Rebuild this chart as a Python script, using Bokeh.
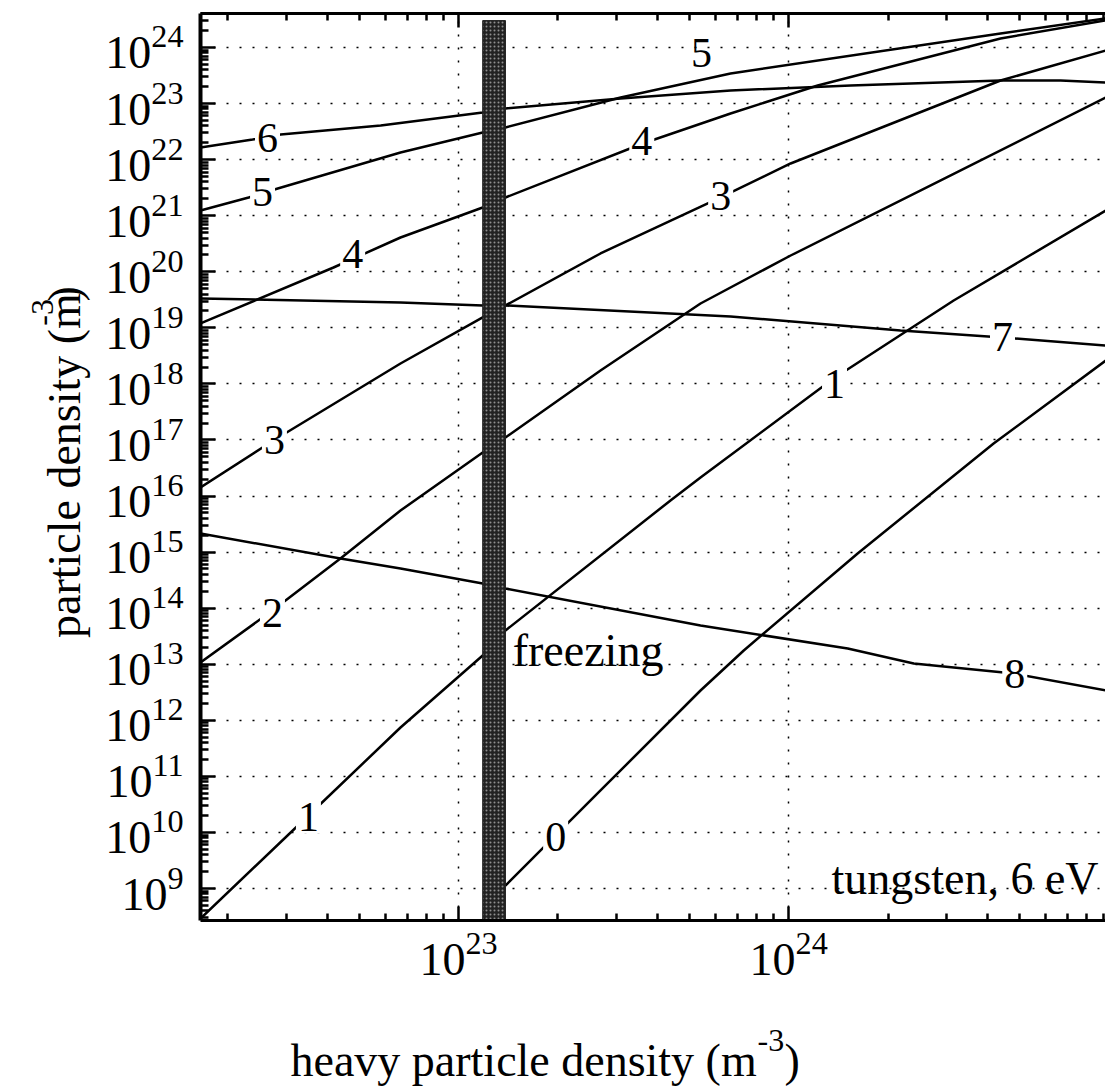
import numpy as np
from bokeh.plotting import figure
from bokeh.layouts import row, column
from bokeh.models import FixedTicker, LogAxis, CustomJSTickFormatter
from bokeh.core.properties import value
from bokeh.embed import file_html
from bokeh.resources import INLINE

FONT = "Liberation Serif"

# ---- data (log10 of densities in m^-3) ----
# charge state 6
lx6 = [22.218, 22.376, 22.461, 22.764, 23.073, 23.142, 23.491, 23.824, 24.188, 24.642, 24.824, 24.961]
ly6 = [22.217, 22.359, 22.448, 22.609, 22.841, 22.912, 23.090, 23.233, 23.322, 23.411, 23.411, 23.376]
# charge state 5
lx5 = [22.218, 22.364, 22.452, 22.824, 23.073, 23.142, 23.491, 23.824, 24.642, 24.961]
ly5 = [21.093, 21.325, 21.485, 22.127, 22.484, 22.573, 23.108, 23.536, 24.250, 24.517]
# charge state 4
lx4 = [22.218, 22.621, 22.824, 23.073, 23.142, 23.558, 23.824, 24.088, 24.642, 24.961]
ly4 = [19.078, 20.076, 20.611, 21.146, 21.325, 22.288, 22.823, 23.322, 24.161, 24.482]
# charge state 3
lx3 = [22.218, 22.439, 22.824, 23.073, 23.142, 23.430, 23.794, 24.006, 24.642, 24.961]
ly3 = [16.153, 16.991, 18.364, 19.185, 19.399, 20.326, 21.325, 21.931, 23.411, 23.946]
# charge state 2
lx2 = [22.218, 22.436, 22.642, 22.824, 23.073, 23.142, 23.430, 23.733, 24.006, 24.491, 24.961]
ly2 = [13.032, 13.959, 14.886, 15.742, 16.777, 17.044, 18.239, 19.434, 20.290, 21.717, 23.108]
# charge state 1
lx1 = [22.218, 22.542, 22.824, 23.073, 23.142, 23.642, 23.733, 24.136, 24.500, 24.961]
ly1 = [8.466, 10.285, 11.872, 13.156, 13.602, 15.921, 16.331, 18.097, 19.488, 21.093]
# neutral (0)
lx0 = [23.142, 23.430, 23.733, 23.864, 24.209, 24.621, 24.961]
ly0 = [9.054, 10.749, 12.532, 13.246, 14.976, 16.937, 18.418]
# charge state 7
lx7 = [22.218, 22.824, 23.073, 23.142, 23.824, 24.339, 24.648, 24.961]
ly7 = [19.523, 19.452, 19.399, 19.399, 19.202, 18.953, 18.828, 18.685]
# charge state 8
lx8 = [22.218, 22.642, 22.824, 23.073, 23.142, 23.733, 24.179, 24.379, 24.682, 24.961]
ly8 = [15.332, 14.886, 14.708, 14.441, 14.351, 13.691, 13.281, 13.014, 12.835, 12.532]

# inline curve labels
lab_text = ["6", "5", "4", "3", "2", "1", "0", "4", "3", "1", "7", "8"]
lab_lx = [22.421, 22.406, 22.679, 22.442, 22.436, 22.545, 23.294, 23.555, 23.794, 24.139, 24.648, 24.685]
lab_ly = [22.377, 21.414, 20.308, 16.991, 13.923, 10.267, 9.920, 22.324, 21.360, 18.007, 18.828, 12.835]
top5_lx, top5_ly = 23.736, 23.893

# freezing band (heavy particle density)
freeze_lo, freeze_hi, freeze_top = 23.073, 23.142, 24.48

# axes
X_MIN, X_MAX = 22.218, 24.960
Y_MIN, Y_MAX = 8.430, 24.606
x_major = [1e23, 1e24]
y_major = [10.0 ** k for k in range(9, 25)]
x_minor = [m * 10.0 ** k for k in range(22, 25) for m in range(2, 10)]
y_minor = [m * 10.0 ** k for k in range(8, 25) for m in range(2, 10)]

p10 = lambda a: np.power(10.0, np.asarray(a, dtype=float))

MAIN_H = 13 + 907 + 85
p = figure(x_axis_type="log", y_axis_type="log",
           x_range=(10 ** X_MIN, 10 ** X_MAX), y_range=(10 ** Y_MIN, 10 ** Y_MAX),
           frame_width=905, frame_height=907,
           min_border_left=108, min_border_right=0, min_border_top=13, min_border_bottom=85,
           output_backend="svg", toolbar_location=None)
p.outline_line_color = None
p.background_fill_color = "white"
p.border_fill_color = "white"

bottom = p.below[0]
ya = p.left[0]
bottom.ticker = FixedTicker(ticks=x_major, minor_ticks=x_minor)
ya.ticker = FixedTicker(ticks=y_major, minor_ticks=y_minor)
p.xgrid.ticker = FixedTicker(ticks=x_major)
p.ygrid.ticker = FixedTicker(ticks=y_major)
for g in (p.xgrid, p.ygrid):
    g.grid_line_color = "black"
    g.grid_line_dash = "2 11"
    g.grid_line_width = 1.5

top = LogAxis(ticker=FixedTicker(ticks=x_major, minor_ticks=x_minor),
              formatter=CustomJSTickFormatter(code="return ' '"))
top.major_label_text_font_size = "2px"
top.major_label_text_alpha = 0
top.major_label_standoff = 0
p.add_layout(top, "above")

for ax in (bottom, top):
    ax.axis_line_width = 3
    ax.major_tick_in = 14
    ax.major_tick_out = 0
    ax.minor_tick_in = 7
    ax.minor_tick_out = 0
    ax.major_tick_line_width = 2.5
    ax.minor_tick_line_width = 2.5
    ax.axis_line_color = "black"
    ax.major_tick_line_color = "black"
    ax.minor_tick_line_color = "black"

ya.axis_line_width = 4
ya.major_tick_in = 15
ya.major_tick_out = 0
ya.minor_tick_in = 8
ya.minor_tick_out = 0
ya.major_tick_line_width = 2.5
ya.minor_tick_line_width = 2.5

for ax in (bottom, ya):
    ax.major_label_text_font = FONT
    ax.major_label_text_font_size = "46px"
    ax.major_label_text_color = "black"
bottom.major_label_standoff = 12
ya.major_label_standoff = 17

# curves
for lx, ly in [(lx6, ly6), (lx5, ly5), (lx4, ly4), (lx3, ly3), (lx2, ly2),
               (lx1, ly1), (lx0, ly0), (lx7, ly7), (lx8, ly8)]:
    p.line(p10(lx), p10(ly), line_color="black", line_width=2.5)

# freezing band
p.quad(left=[10 ** freeze_lo], right=[10 ** freeze_hi], bottom=[10 ** (Y_MIN - 0.2)], top=[10 ** freeze_top],
       fill_color="#222222", line_color="#222222", line_width=1,
       hatch_pattern="dot", hatch_color="#8f8f8f", hatch_scale=4, hatch_weight=1.5)

# curve labels
p.text(x=p10(lab_lx), y=p10(lab_ly), text=lab_text, text_font=value(FONT), text_font_size="42px",
       text_align="center", text_baseline="middle", text_color="black",
       background_fill_color="white", padding=2)
p.text(x=[10 ** top5_lx], y=[10 ** top5_ly], text=["5"], text_font=value(FONT), text_font_size="42px",
       text_align="center", text_baseline="middle", text_color="black")

p.text(x=[10 ** 23.164], y=[10 ** 13.246], text=["freezing"], text_font=value(FONT), text_font_size="46px",
       text_align="left", text_baseline="alphabetic", text_color="black")
p.text(x=[10 ** 24.939], y=[10 ** 9.179], text=["tungsten, 6 eV"], text_font=value(FONT), text_font_size="46px",
       text_align="right", text_baseline="alphabetic", text_color="black")


def title_fig(w, h):
    t = figure(width=w, height=h, x_range=(0, w), y_range=(0, h), min_border=0,
               x_axis_location=None, y_axis_location=None,
               output_backend="svg", toolbar_location=None)
    t.outline_line_color = None
    t.grid.grid_line_color = None
    t.background_fill_color = "white"
    t.border_fill_color = "white"
    return t


def put(t, txt, x, y, size, angle=0.0):
    t.text(x=[x], y=[y], text=[txt], angle=angle, text_font=value(FONT), text_font_size=size,
           text_align="left", text_baseline="alphabetic", text_color="black")


# y-axis title: particle density (m^-3)
yt = title_fig(92, MAIN_H)
put(yt, "particle density (m", 64, MAIN_H - 692, "46px", np.pi / 2)
put(yt, "-3", 42, MAIN_H - 346, "32px", np.pi / 2)
put(yt, ")", 64, MAIN_H - 319, "46px", np.pi / 2)

# x-axis title: heavy particle density (m^-3)
XT_H = 1089 - MAIN_H
xt = title_fig(1105, XT_H)
base = MAIN_H + XT_H
put(xt, "heavy particle density (m", 290, base - 1060, "46px")
put(xt, "-3", 757, base - 1040, "32px")
put(xt, ")", 784, base - 1060, "46px")

layout = column(row(yt, p, spacing=0), xt, spacing=0)
open("out.html", "w").write(file_html(layout, INLINE))
